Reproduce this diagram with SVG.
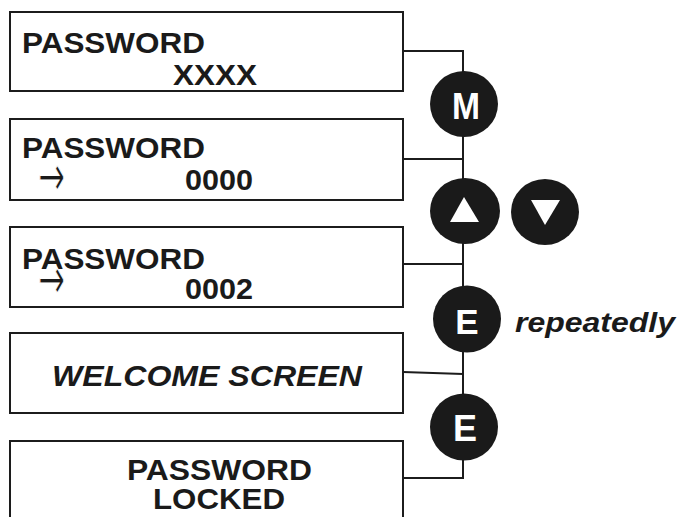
<svg xmlns="http://www.w3.org/2000/svg" width="678" height="517" viewBox="0 0 678 517">
<style>
.box{fill:#fff;stroke:#1c1c1c;stroke-width:2}
.t{font-family:"Liberation Sans",Arial,sans-serif;font-weight:bold;font-size:30px;fill:#1a1a1a}
.it{font-style:italic}
.arr{font-family:"DejaVu Sans",sans-serif;font-size:40px;fill:#1a1a1a;stroke:#fff;stroke-width:0.9}
.btn{fill:#1a1a1a}
.bl{font-family:"Liberation Sans",Arial,sans-serif;font-weight:bold;fill:#fff;text-anchor:middle}
.c{fill:none;stroke:#1c1c1c;stroke-width:2}
</style>
<g id="connectors">
<polyline class="c" points="403,51 463,51 463,478 403,478"/>
<line class="c" x1="403" y1="159" x2="463" y2="159"/>
<line class="c" x1="403" y1="264" x2="463" y2="264"/>
<line class="c" x1="403" y1="372" x2="463" y2="374"/>
</g>
<g id="box1">
<rect class="box" x="10" y="12" width="393" height="79"/>
<text class="t" x="22" y="53" textLength="183" lengthAdjust="spacingAndGlyphs">PASSWORD</text>
<text class="t" x="173" y="85" textLength="84" lengthAdjust="spacingAndGlyphs">XXXX</text>
</g>
<g id="box2">
<rect class="box" x="10" y="119" width="393" height="81"/>
<text class="t" x="22" y="158" textLength="183" lengthAdjust="spacingAndGlyphs">PASSWORD</text>
<text class="arr" transform="translate(38,178) scale(1,1.45)" x="0" y="12.5" textLength="27" lengthAdjust="spacingAndGlyphs">→</text>
<text class="t" x="185" y="190" textLength="68" lengthAdjust="spacingAndGlyphs">0000</text>
</g>
<g id="box3">
<rect class="box" x="10" y="227" width="393" height="80"/>
<text class="t" x="22" y="269" textLength="183" lengthAdjust="spacingAndGlyphs">PASSWORD</text>
<text class="arr" transform="translate(38,281) scale(1,1.45)" x="0" y="12.5" textLength="27" lengthAdjust="spacingAndGlyphs">→</text>
<text class="t" x="185" y="299" textLength="68" lengthAdjust="spacingAndGlyphs">0002</text>
</g>
<g id="box4">
<rect class="box" x="10" y="333" width="393" height="80"/>
<text class="t it" x="52" y="386" textLength="310" lengthAdjust="spacingAndGlyphs">WELCOME SCREEN</text>
</g>
<g id="box5">
<rect class="box" x="10" y="441" width="393" height="90"/>
<text class="t" x="127" y="480" textLength="185" lengthAdjust="spacingAndGlyphs">PASSWORD</text>
<text class="t" x="153" y="509" textLength="132" lengthAdjust="spacingAndGlyphs">LOCKED</text>
</g>
<g id="btn-m">
<ellipse class="btn" cx="464" cy="104" rx="34" ry="33"/>
<text class="bl" x="466" y="119" font-size="37" textLength="28" lengthAdjust="spacingAndGlyphs">M</text>
</g>
<g id="btn-up">
<ellipse class="btn" cx="465" cy="211" rx="35" ry="33"/>
<polygon points="464,197 450,222 479,222" fill="#fff"/>
</g>
<g id="btn-down">
<ellipse class="btn" cx="545" cy="212" rx="34" ry="33"/>
<polygon points="531,200 560,200 545,225" fill="#fff"/>
</g>
<g id="btn-e1">
<ellipse class="btn" cx="467" cy="319" rx="34" ry="33.5"/>
<text class="bl" x="467" y="334" font-size="35">E</text>
</g>
<text id="label-repeatedly" class="t it" x="515" y="332" textLength="160" lengthAdjust="spacingAndGlyphs" style="font-size:27px">repeatedly</text>
<g id="btn-e2">
<ellipse class="btn" cx="464" cy="427" rx="34" ry="33.5"/>
<text class="bl" x="465" y="441" font-size="36">E</text>
</g>
</svg>
